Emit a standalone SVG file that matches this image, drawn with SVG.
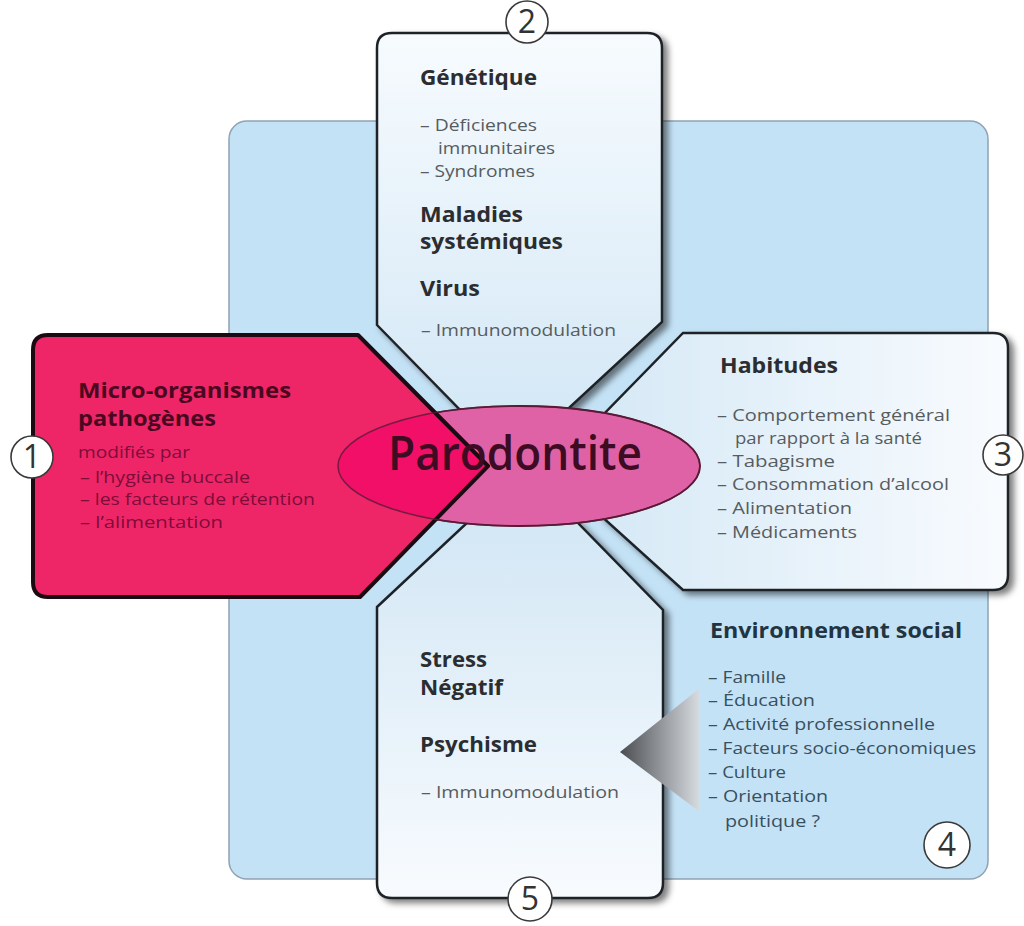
<svg xmlns="http://www.w3.org/2000/svg" width="1024" height="926" viewBox="0 0 1024 926">
<defs>
<style>
text{font-family:"Open Sans","Noto Sans","DejaVu Sans",sans-serif}
.h{font-size:22px;font-weight:700;fill:#2b2d30}
.i{font-size:16.5px;fill:#575c60}
.hp{font-size:22px;font-weight:700;fill:#4a0820}
.ip{font-size:16px;fill:#7e0c38}
.he{font-size:22px;font-weight:700;fill:#223442}
.ie{font-size:16px;fill:#37505f}
.num{font-size:32px;fill:#333;text-anchor:middle}
.circ{fill:#fff;stroke:#3a3a3a;stroke-width:1.6}
.box{stroke:#1e2226;stroke-width:2.5;filter:url(#sh)}
</style>
<filter id="sh" x="-10%" y="-10%" width="125%" height="125%">
<feDropShadow dx="5" dy="4" stdDeviation="3" flood-color="#000" flood-opacity="0.5"/>
</filter>
<linearGradient id="gTop" x1="0" y1="0" x2="0" y2="1">
<stop offset="0" stop-color="#f7fbfe"/><stop offset="1" stop-color="#d4e8f6"/>
</linearGradient>
<linearGradient id="gBot" x1="0" y1="0" x2="0" y2="1">
<stop offset="0" stop-color="#d3e7f5"/><stop offset="1" stop-color="#f8fbfe"/>
</linearGradient>
<linearGradient id="gRight" x1="0" y1="0" x2="1" y2="0">
<stop offset="0" stop-color="#d6e9f6"/><stop offset="1" stop-color="#f8fbfe"/>
</linearGradient>
<linearGradient id="gTri" x1="0" y1="0" x2="1" y2="0">
<stop offset="0" stop-color="#4a4c50"/><stop offset="1" stop-color="#d8dde2"/>
</linearGradient>
<clipPath id="clipPink">
<path d="M33,350 Q33,335 48,335 L358,335 L488,466 L360,597 L48,597 Q33,597 33,582 Z"/>
</clipPath>
</defs>
<rect width="1024" height="926" fill="#ffffff"/>
<g id="background">
<rect x="229" y="121" width="759" height="758" rx="18" fill="#c4e2f6" stroke="#8fa3b2" stroke-width="1.5"/>
</g>
<g id="node-2">
<path class="box" fill="url(#gTop)" d="M377,325 L470,420 L556,420 L662,322 L662,48 Q662,33 647,33 L392,33 Q377,33 377,48 Z"/>
<text class="h" x="420" y="85" textLength="117" lengthAdjust="spacingAndGlyphs">Génétique</text>
<text class="i" x="420" y="131" textLength="117" lengthAdjust="spacingAndGlyphs">– Déficiences</text>
<text class="i" x="438" y="154" textLength="117" lengthAdjust="spacingAndGlyphs">immunitaires</text>
<text class="i" x="420" y="177" textLength="115" lengthAdjust="spacingAndGlyphs">– Syndromes</text>
<text class="h" x="420" y="222" textLength="103" lengthAdjust="spacingAndGlyphs">Maladies</text>
<text class="h" x="420" y="249" textLength="143" lengthAdjust="spacingAndGlyphs">systémiques</text>
<text class="h" x="420" y="296" textLength="60" lengthAdjust="spacingAndGlyphs">Virus</text>
<text class="i" x="421" y="336" textLength="195" lengthAdjust="spacingAndGlyphs">– Immunomodulation</text>
</g>
<g id="node-3">
<path class="box" fill="url(#gRight)" d="M683,333 L993,333 Q1008,333 1008,348 L1008,575 Q1008,590 993,590 L683,590 L600,515 L600,418 Z"/>
<text class="h" x="720" y="373" textLength="118" lengthAdjust="spacingAndGlyphs">Habitudes</text>
<text class="i" x="717" y="421" textLength="233" lengthAdjust="spacingAndGlyphs">– Comportement général</text>
<text class="i" x="735" y="444" textLength="187" lengthAdjust="spacingAndGlyphs">par rapport à la santé</text>
<text class="i" x="717" y="467" textLength="118" lengthAdjust="spacingAndGlyphs">– Tabagisme</text>
<text class="i" x="717" y="490" textLength="232" lengthAdjust="spacingAndGlyphs">– Consommation d’alcool</text>
<text class="i" x="717" y="514" textLength="135" lengthAdjust="spacingAndGlyphs">– Alimentation</text>
<text class="i" x="717" y="538" textLength="140" lengthAdjust="spacingAndGlyphs">– Médicaments</text>
</g>
<g id="node-5">
<path class="box" fill="url(#gBot)" d="M377,607 L470,520 L575,520 L663,610 L663,883 Q663,898 648,898 L392,898 Q377,898 377,883 Z"/>
<text class="h" x="420" y="667" textLength="67" lengthAdjust="spacingAndGlyphs">Stress</text>
<text class="h" x="420" y="695" textLength="83" lengthAdjust="spacingAndGlyphs">Négatif</text>
<text class="h" x="420" y="752" textLength="117" lengthAdjust="spacingAndGlyphs">Psychisme</text>
<text class="i" x="421" y="798" textLength="198" lengthAdjust="spacingAndGlyphs">– Immunomodulation</text>
</g>
<g id="center">
<ellipse cx="519" cy="466" rx="181" ry="60" fill="#e062a6" stroke="#5a1a36" stroke-width="1.8"/>
</g>
<g id="node-1">
<path d="M33,350 Q33,335 48,335 L358,335 L488,466 L360,597 L48,597 Q33,597 33,582 Z" fill="#ee2668"/>
<ellipse cx="519" cy="466" rx="181" ry="60" fill="#f20f68" clip-path="url(#clipPink)"/>
<path d="M33,350 Q33,335 48,335 L358,335 L488,466 L360,597 L48,597 Q33,597 33,582 Z" fill="none" stroke="#1c0a12" stroke-width="4" stroke-linejoin="round"/>
<text class="hp" x="78" y="398" textLength="213" lengthAdjust="spacingAndGlyphs">Micro-organismes</text>
<text class="hp" x="78" y="426" textLength="138" lengthAdjust="spacingAndGlyphs">pathogènes</text>
<text class="ip" x="78" y="458" textLength="112" lengthAdjust="spacingAndGlyphs">modifiés par</text>
<text class="ip" x="80" y="483" textLength="170" lengthAdjust="spacingAndGlyphs">– l’hygiène buccale</text>
<text class="ip" x="80" y="505" textLength="235" lengthAdjust="spacingAndGlyphs">– les facteurs de rétention</text>
<text class="ip" x="80" y="528" textLength="143" lengthAdjust="spacingAndGlyphs">– l’alimentation</text>
</g>
<g id="center-label">
<ellipse cx="519" cy="466" rx="181" ry="60" fill="none" stroke="#5a1a36" stroke-width="1.5" stroke-opacity="0.8"/>
<text x="388" y="470" font-size="47" font-weight="600" fill="#3d0b22" textLength="254" lengthAdjust="spacingAndGlyphs">Parodontite</text>
</g>
<g id="node-4">
<text class="he" x="710" y="638" textLength="252" lengthAdjust="spacingAndGlyphs">Environnement social</text>
<text class="ie" x="708" y="683" textLength="78" lengthAdjust="spacingAndGlyphs">– Famille</text>
<text class="ie" x="708" y="706" textLength="107" lengthAdjust="spacingAndGlyphs">– Éducation</text>
<text class="ie" x="708" y="730" textLength="227" lengthAdjust="spacingAndGlyphs">– Activité professionnelle</text>
<text class="ie" x="708" y="754" textLength="268" lengthAdjust="spacingAndGlyphs">– Facteurs socio-économiques</text>
<text class="ie" x="708" y="778" textLength="78" lengthAdjust="spacingAndGlyphs">– Culture</text>
<text class="ie" x="708" y="802" textLength="120" lengthAdjust="spacingAndGlyphs">– Orientation</text>
<text class="ie" x="725" y="827" textLength="95" lengthAdjust="spacingAndGlyphs">politique ?</text>
</g>
<g id="connectors">
<polygon points="620,752 700,688 700,812" fill="url(#gTri)"/>
</g>
<g id="numbers">
<circle class="circ" cx="32" cy="457" r="21"/><text class="num" x="32" y="468">1</text>
<circle class="circ" cx="527" cy="22" r="21"/><text class="num" x="527" y="33">2</text>
<circle class="circ" cx="1003" cy="455" r="20"/><text class="num" x="1003" y="466">3</text>
<circle class="circ" cx="947" cy="845" r="23"/><text class="num" x="947" y="856">4</text>
<circle class="circ" cx="530" cy="899" r="22"/><text class="num" x="530" y="910">5</text>
</g>
</svg>
